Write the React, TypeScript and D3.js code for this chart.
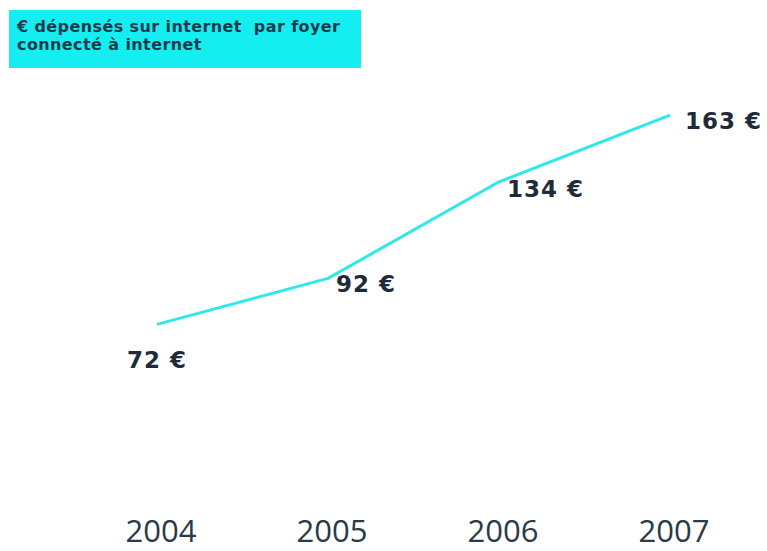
import React from "react";
import * as d3 from "d3";

const years = ["2004", "2005", "2006", "2007"];
const values = [72, 92, 134, 163];
const valueLabels = ["72 €", "92 €", "134 €", "163 €"];
const titleLines = ["€ dépensés sur internet  par foyer", "connecté à internet"];

const W = 767;
const H = 551;
// label offsets relative to each point (layout only)
const labelOffsets: [number, number][] = [
  [-30, 44],
  [8, 14],
  [8, 15],
  [15, 14],
];

export default function App() {
  const x = d3.scalePoint<string>().domain(years).range([157, 670]);
  const y = d3.scaleLinear().domain([0, 200]).range([490, 30]);
  const line = d3
    .line<number>()
    .x((_, i) => x(years[i]) as number)
    .y((d) => y(d));

  return (
    <svg
      width={W}
      height={H}
      style={{ position: "absolute", left: 0, top: 0, background: "#fff" }}
    >
      <rect x={0} y={0} width={W} height={H} fill="#fff" />
      <rect x={9} y={10} width={352} height={58} fill="#14eef0" />
      {titleLines.map((t, i) => (
        <text
          key={i}
          x={17}
          y={32 + i * 18}
          fontFamily="'DejaVu Sans', sans-serif"
          fontWeight="bold"
          fontSize={16}
          letterSpacing={0.4}
          fill="#1d3a4c"
          style={{ whiteSpace: "pre" }}
        >
          {t}
        </text>
      ))}
      <path
        d={line(values) || ""}
        fill="none"
        stroke="#2ee8ea"
        strokeWidth={3}
        strokeLinejoin="round"
      />
      {values.map((v, i) => (
        <text
          key={i}
          x={(x(years[i]) as number) + labelOffsets[i][0]}
          y={y(v) + labelOffsets[i][1]}
          fontFamily="'DejaVu Sans', sans-serif"
          fontWeight="bold"
          fontSize={23}
          letterSpacing={1}
          fill="#1f2b38"
        >
          {valueLabels[i]}
        </text>
      ))}
      {years.map((yr, i) => (
        <text
          key={yr}
          x={(x(yr) as number) + 4}
          y={542}
          textAnchor="middle"
          fontFamily="'Open Sans', sans-serif"
          fontSize={31}
          fill="#2a3a48"
        >
          {yr}
        </text>
      ))}
    </svg>
  );
}
